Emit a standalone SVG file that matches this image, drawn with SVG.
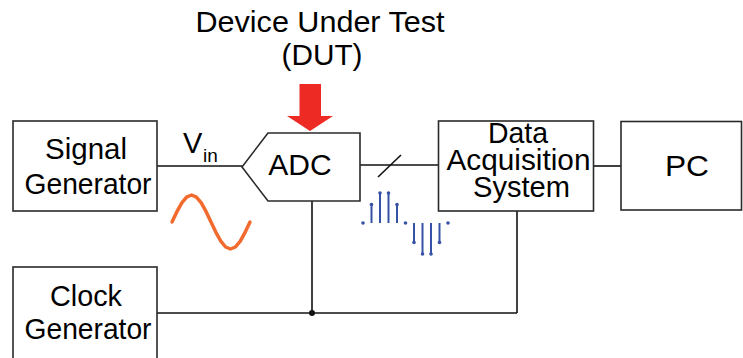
<svg xmlns="http://www.w3.org/2000/svg" width="743" height="358" viewBox="0 0 743 358">
<style>
.box{fill:#fff;stroke:#2a2a2a;stroke-width:1.6}
.ln{fill:none;stroke:#111;stroke-width:1.6}
.t{font-family:"Liberation Sans",Arial,sans-serif;font-size:29px;fill:#000;text-anchor:middle}
.stem{stroke:#3552a5;stroke-width:2}
.dot{fill:#3552a5}
</style>
<rect width="743" height="358" fill="#fff"/>
<g id="connectors">
<line class="ln" x1="157" y1="166" x2="242" y2="166"/>
<line class="ln" x1="360" y1="165" x2="438.5" y2="165"/>
<line class="ln" x1="378" y1="177" x2="401" y2="155"/>
<line class="ln" x1="593.5" y1="166" x2="621" y2="166"/>
<line class="ln" x1="312" y1="201" x2="312" y2="313"/>
<line class="ln" x1="517" y1="211" x2="517" y2="313"/>
<line class="ln" x1="157" y1="313" x2="517" y2="313"/>
<circle cx="312" cy="313" r="3" fill="#111"/>
</g>
<g id="dut-label">
<text class="t" x="320" y="31.5" textLength="249" lengthAdjust="spacingAndGlyphs">Device Under Test</text>
<text class="t" x="322" y="65" textLength="81" lengthAdjust="spacingAndGlyphs">(DUT)</text>
<polygon points="299.5,84 321,84 321,116 333,116 310,131 287,116 299.5,116" fill="#ee2a24"/>
</g>
<g id="signal-generator">
<rect class="box" x="13" y="121" width="144" height="90"/>
<text class="t" x="86" y="158.5" textLength="82" lengthAdjust="spacingAndGlyphs">Signal</text>
<text class="t" x="88" y="194" textLength="127" lengthAdjust="spacingAndGlyphs">Generator</text>
</g>
<g id="clock-generator">
<rect class="box" x="13" y="267" width="144" height="95"/>
<text class="t" x="86" y="305.5" textLength="72" lengthAdjust="spacingAndGlyphs">Clock</text>
<text class="t" x="88" y="338.5" textLength="127" lengthAdjust="spacingAndGlyphs">Generator</text>
</g>
<g id="adc">
<polygon class="box" points="242,167 268,133 360,133 360,201 268,201"/>
<text class="t" x="300" y="175" style="font-size:30px">ADC</text>
</g>
<g id="vin">
<text x="183" y="152.5" style="font-family:'Liberation Sans',Arial,sans-serif;font-size:29px">V</text>
<text x="203" y="161.5" style="font-family:'Liberation Sans',Arial,sans-serif;font-size:19px">in</text>
</g>
<g id="daq">
<rect class="box" x="438.5" y="121" width="155" height="90"/>
<text class="t" x="518" y="143" textLength="60" lengthAdjust="spacingAndGlyphs">Data</text>
<text class="t" x="518.5" y="169.5" textLength="144" lengthAdjust="spacingAndGlyphs">Acquisition</text>
<text class="t" x="521.5" y="196.5" textLength="97" lengthAdjust="spacingAndGlyphs">System</text>
</g>
<g id="pc">
<rect class="box" x="621" y="121.5" width="120.5" height="88.5"/>
<text class="t" x="687" y="175.5" textLength="44" lengthAdjust="spacingAndGlyphs">PC</text>
</g>
<g id="sine">
<polyline fill="none" stroke="#f26a2e" stroke-width="3.5" stroke-linecap="round" stroke-linejoin="round" points="172,222 176.9,211.7 181.8,202.9 186.6,197.1 191.5,195 196.4,197.1 201.3,202.9 206.1,211.7 211,222 215.9,232.3 220.8,241.1 225.6,247 230.5,249 235.4,247 240.3,241.1 245.1,232.3 250,222"/>
</g>
<g id="samples">
<line class="stem" x1="371.5" y1="223" x2="371.5" y2="204.5"/>
<line class="stem" x1="380" y1="223" x2="380" y2="193"/>
<line class="stem" x1="388.5" y1="223" x2="388.5" y2="193"/>
<line class="stem" x1="397" y1="223" x2="397" y2="204.5"/>
<line class="stem" x1="414" y1="223" x2="414" y2="242.5"/>
<line class="stem" x1="422.5" y1="223" x2="422.5" y2="254"/>
<line class="stem" x1="431" y1="223" x2="431" y2="254"/>
<line class="stem" x1="439.5" y1="223" x2="439.5" y2="242.5"/>
<circle class="dot" cx="363" cy="223" r="1.8"/>
<circle class="dot" cx="371.5" cy="204.5" r="1.8"/>
<circle class="dot" cx="380" cy="193" r="1.8"/>
<circle class="dot" cx="388.5" cy="193" r="1.8"/>
<circle class="dot" cx="397" cy="204.5" r="1.8"/>
<circle class="dot" cx="405.5" cy="223" r="1.8"/>
<circle class="dot" cx="414" cy="242.5" r="1.8"/>
<circle class="dot" cx="422.5" cy="254" r="1.8"/>
<circle class="dot" cx="431" cy="254" r="1.8"/>
<circle class="dot" cx="439.5" cy="242.5" r="1.8"/>
<circle class="dot" cx="448" cy="223" r="1.8"/>
</g>
</svg>
